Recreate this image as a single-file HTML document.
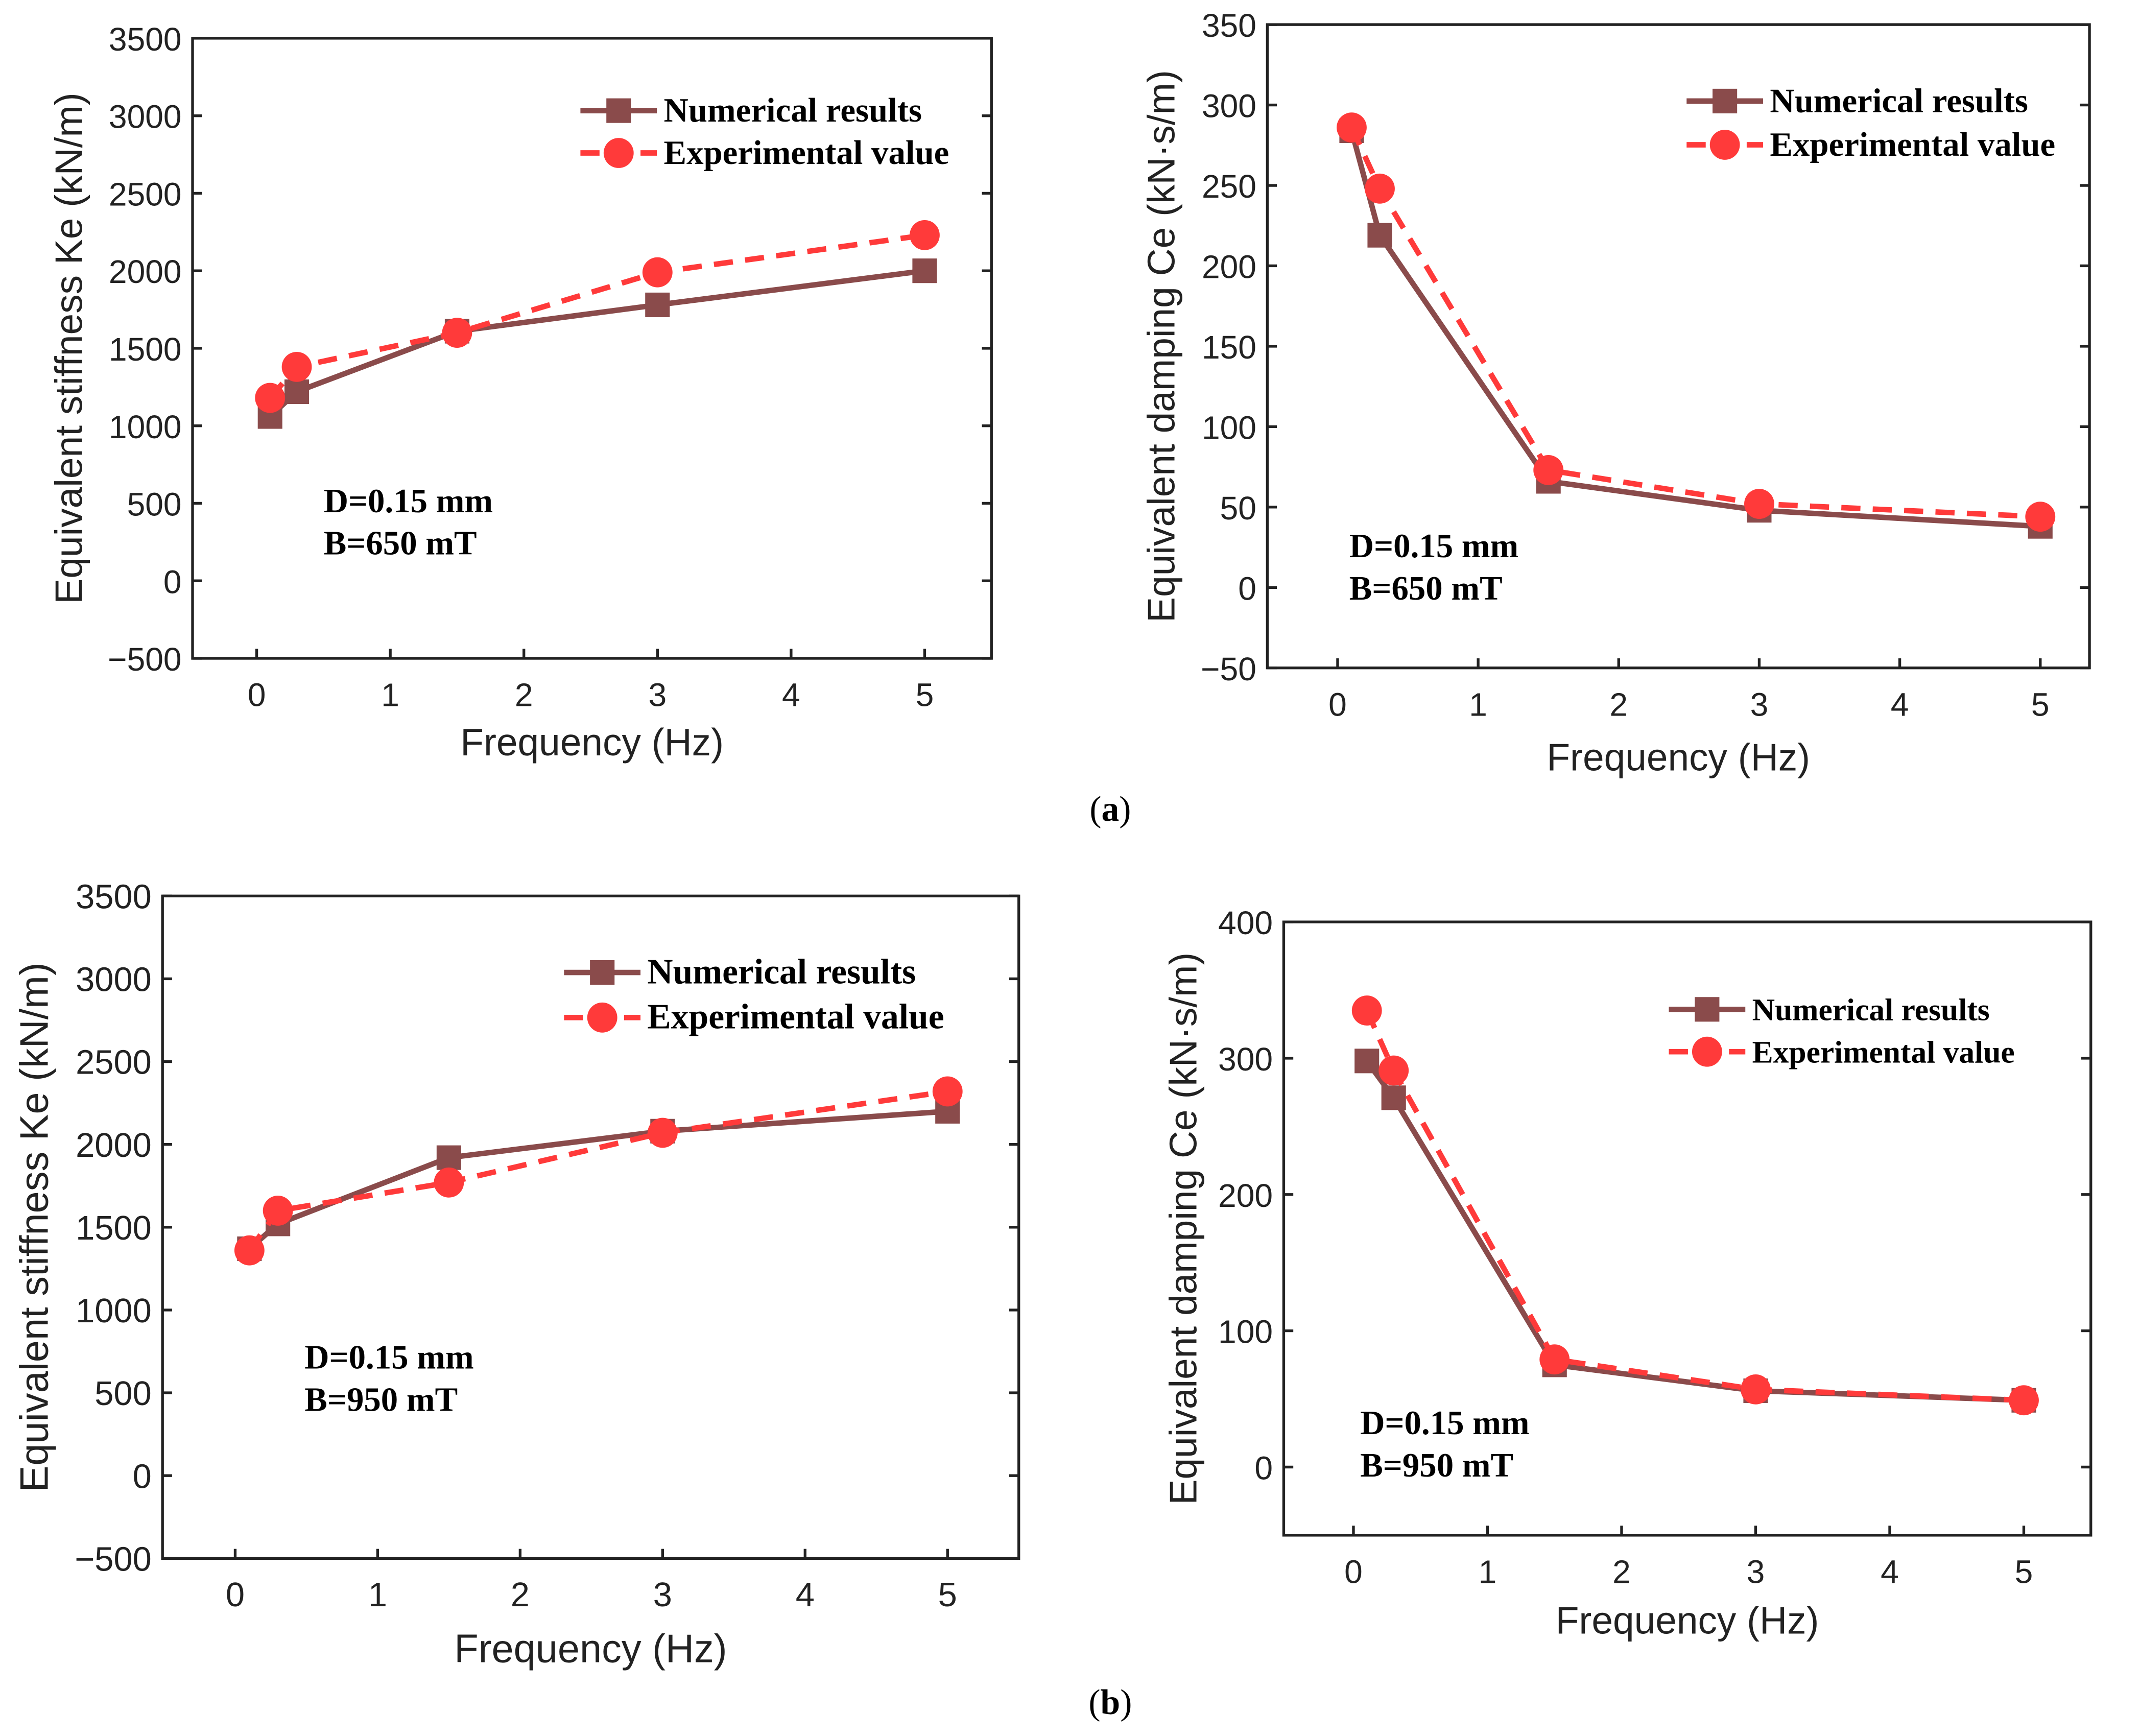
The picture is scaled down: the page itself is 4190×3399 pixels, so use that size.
<!DOCTYPE html>
<html><head><meta charset="utf-8"><style>
html,body{margin:0;padding:0;background:#fff;}
svg{display:block;}
text{font-family:"Liberation Sans",Arial,sans-serif;fill:#222;}
.serif{font-family:"Liberation Serif","Times New Roman",serif;font-weight:bold;fill:#000;}
</style></head><body>
<svg id="fig" width="4190" height="3399" viewBox="0 0 1567 1271" preserveAspectRatio="none" xmlns="http://www.w3.org/2000/svg">
<text class="serif" x="813" y="601" text-anchor="middle" font-size="26" style="font-weight:normal">(<tspan font-weight="bold">a</tspan>)</text>
<text class="serif" x="813" y="1255" text-anchor="middle" font-size="26" style="font-weight:normal">(<tspan font-weight="bold">b</tspan>)</text>
</svg>
<script>
const freq = [0.1, 0.3, 1.5, 3, 5];
const xTicks = [0, 1, 2, 3, 4, 5];
const aStiffNum = [1060, 1220, 1610, 1780, 2000];
const aStiffExp = [1180, 1380, 1600, 1990, 2230];
const aDampNum = [284, 219, 66, 48, 38];
const aDampExp = [286, 248, 73, 52, 44];
const bStiffNum = [1370, 1520, 1920, 2080, 2200];
const bStiffExp = [1360, 1600, 1770, 2070, 2320];
const bDampNum = [298, 271, 75, 56, 49];
const bDampExp = [335, 291, 79, 57, 49];
const stiffTicks = [-500, 0, 500, 1000, 1500, 2000, 2500, 3000, 3500];
const dampTicksA = [-50, 0, 50, 100, 150, 200, 250, 300, 350];
const dampTicksB = [0, 100, 200, 300, 400];

const NS = "http://www.w3.org/2000/svg";
const svg = document.getElementById('fig');
function mk(tag, attrs, parent) {
  const e = document.createElementNS(NS, tag);
  for (const k in attrs) e.setAttribute(k, attrs[k]);
  (parent || svg).appendChild(e);
  return e;
}
function panel(p) {
  const g = mk('g', {});
  
  
  const sx = v => p.x0 + (v - p.xmin) / (p.xmax - p.xmin) * (p.x1 - p.x0);
  const sy = v => p.y1 - (v - p.ymin) / (p.ymax - p.ymin) * (p.y1 - p.y0);
  const box = mk('rect', {x: p.x0, y: p.y0, width: p.x1 - p.x0, height: p.y1 - p.y0, fill: 'none', stroke: '#222', 'stroke-width': 2}, g);
  
  
  p.yTicks.forEach(v => {
    const y = sy(v);
    mk('line', {x1: p.x0, x2: p.x0 + 7, y1: y, y2: y, stroke: '#222', 'stroke-width': 2}, g);
    mk('line', {x1: p.x1, x2: p.x1 - 7, y1: y, y2: y, stroke: '#222', 'stroke-width': 2}, g);
    const t = mk('text', {x: p.x0 - 8, y: y + 9, 'text-anchor': 'end', 'font-size': p.fs}, g);
    t.textContent = v < 0 ? '\u2212' + (-v) : String(v);
    
    
  });
  xTicks.forEach(v => {
    const x = sx(v);
    mk('line', {x1: x, x2: x, y1: p.y1, y2: p.y1 - 7, stroke: '#222', 'stroke-width': 2}, g);
    const t = mk('text', {x: x, y: p.y1 + 35, 'text-anchor': 'middle', 'font-size': p.fs}, g);
    t.textContent = String(v);
    
    
  });
  const xl = mk('text', {x: (p.x0 + p.x1) / 2, y: p.xlY, 'text-anchor': 'middle', 'font-size': p.fs + 4}, g);
  xl.textContent = 'Frequency (Hz)';
  
  
  const cy = (p.y0 + p.y1) / 2;
  const yl = mk('text', {x: p.ylX, y: cy, 'text-anchor': 'middle', 'font-size': p.fs + 4, transform: 'rotate(-90 ' + p.ylX + ' ' + cy + ')'}, g);
  yl.textContent = p.ylabel;
  
  
  const ptsN = freq.map((f, i) => sx(f) + ',' + sy(p.num[i])).join(' ');
  const ptsE = freq.map((f, i) => sx(f) + ',' + sy(p.exp[i])).join(' ');
  const ln = mk('polyline', {points: ptsN, fill: 'none', stroke: '#8a4b4b', 'stroke-width': 4}, g);
  
  
  freq.forEach((f, i) => {
    const r = mk('rect', {x: sx(f) - 9, y: sy(p.num[i]) - 9, width: 18, height: 18, fill: '#8a4b4b'}, g);
    
    
  });
  const le = mk('polyline', {points: ptsE, fill: 'none', stroke: '#ff3a3a', 'stroke-width': 4, 'stroke-dasharray': '14 9'}, g);
  
  
  freq.forEach((f, i) => {
    const c = mk('circle', {cx: sx(f), cy: sy(p.exp[i]), r: 11, fill: '#ff3a3a'}, g);
    
    
  });
  const lg = mk('g', {}, g);
  
  
  const L = p.leg;
  mk('line', {x1: L.x, x2: L.x + 56, y1: L.y1, y2: L.y1, stroke: '#8a4b4b', 'stroke-width': 4}, lg);
  mk('rect', {x: L.x + 19, y: L.y1 - 9, width: 18, height: 18, fill: '#8a4b4b'}, lg);
  const t1 = mk('text', {x: L.x + 61, y: L.y1 + 8, 'font-size': L.fs, 'class': 'serif'}, lg);
  t1.textContent = 'Numerical results';
  
  
  mk('line', {x1: L.x, x2: L.x + 56, y1: L.y2, y2: L.y2, stroke: '#ff3a3a', 'stroke-width': 4, 'stroke-dasharray': '14 8'}, lg);
  mk('circle', {cx: L.x + 28, cy: L.y2, r: 11, fill: '#ff3a3a'}, lg);
  const t2 = mk('text', {x: L.x + 61, y: L.y2 + 8, 'font-size': L.fs, 'class': 'serif'}, lg);
  t2.textContent = 'Experimental value';
  
  
  const a1 = mk('text', {x: p.ann.x, y: p.ann.y, 'font-size': 25, 'class': 'serif'}, g);
  a1.textContent = 'D=0.15 mm';
  
  
  const a2 = mk('text', {x: p.ann.x, y: p.ann.y + 31, 'font-size': 25, 'class': 'serif'}, g);
  a2.textContent = p.bText;
  
  
}
panel({name: 'panel-a-stiffness', x0: 141, x1: 726, y0: 28, y1: 482, xmin: -0.48, xmax: 5.5, ymin: -500, ymax: 3500,
  yTicks: stiffTicks, num: aStiffNum, exp: aStiffExp, fs: 24, xlY: 553, ylX: 60,
  ylabel: 'Equivalent stiffness Ke (kN/m)', leg: {x: 425, y1: 81, y2: 112, fs: 25}, ann: {x: 237, y: 375}, bText: 'B=650 mT'});
panel({name: 'panel-a-damping', x0: 928, x1: 1530, y0: 18, y1: 489, xmin: -0.5, xmax: 5.35, ymin: -50, ymax: 350,
  yTicks: dampTicksA, num: aDampNum, exp: aDampExp, fs: 24, xlY: 564, ylX: 860,
  ylabel: 'Equivalent damping Ce (kN\u00b7s/m)', leg: {x: 1235, y1: 74, y2: 106, fs: 25}, ann: {x: 988, y: 408}, bText: 'B=650 mT'});
panel({name: 'panel-b-stiffness', x0: 119, x1: 746, y0: 656, y1: 1141, xmin: -0.51, xmax: 5.5, ymin: -500, ymax: 3500,
  yTicks: stiffTicks, num: bStiffNum, exp: bStiffExp, fs: 25, xlY: 1217, ylX: 35,
  ylabel: 'Equivalent stiffness Ke (kN/m)', leg: {x: 413, y1: 712, y2: 745, fs: 26}, ann: {x: 223, y: 1002}, bText: 'B=950 mT'});
panel({name: 'panel-b-damping', x0: 940, x1: 1531, y0: 675, y1: 1124, xmin: -0.52, xmax: 5.5, ymin: -50, ymax: 400,
  yTicks: dampTicksB, num: bDampNum, exp: bDampExp, fs: 24, xlY: 1196, ylX: 876,
  ylabel: 'Equivalent damping Ce (kN\u00b7s/m)', leg: {x: 1222, y1: 739, y2: 770, fs: 23}, ann: {x: 996, y: 1050}, bText: 'B=950 mT'});
</script>
</body></html>
